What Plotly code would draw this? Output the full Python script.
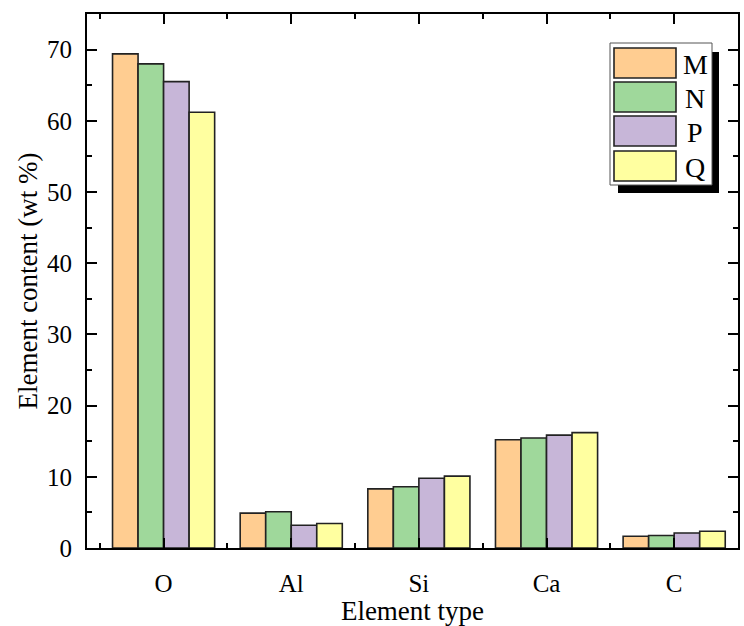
import plotly.graph_objects as go

categories = ["O", "Al", "Si", "Ca", "C"]
series_names = ["M", "N", "P", "Q"]
M_values = [69.4, 4.9, 8.3, 15.2, 1.65]
N_values = [68.0, 5.1, 8.6, 15.45, 1.75]
P_values = [65.5, 3.2, 9.8, 15.85, 2.1]
Q_values = [61.2, 3.45, 10.1, 16.2, 2.35]
colors = ["#FFCD91", "#9FD89B", "#C7B6D8", "#FFFFA0"]

values = [M_values, N_values, P_values, Q_values]
xpos = list(range(len(categories)))

FONT = "Liberation Serif, Times New Roman, serif"
W, H = 744, 626
L, R, T, B = 87, 6, 14, 78
PW, PH = W - L - R, H - T - B


def px(x):
    return (x - L) / PW


def py(y):
    return (H - B - y) / PH


fig = go.Figure()
for name, vals, col in zip(series_names, values, colors):
    fig.add_trace(go.Bar(
        x=xpos, y=vals, name=name,
        marker=dict(color=col, line=dict(color="#222222", width=1.6)),
        showlegend=False,
    ))

# custom legend (box with drop shadow)
shapes = []
annotations = []
shapes.append(dict(type="rect", xref="paper", yref="paper",
                   x0=px(618), x1=px(719), y0=py(193), y1=py(52),
                   fillcolor="black", line=dict(width=0), layer="above"))
shapes.append(dict(type="rect", xref="paper", yref="paper",
                   x0=px(610), x1=px(712), y0=py(185), y1=py(43),
                   fillcolor="white", line=dict(color="#555555", width=1), layer="above"))
sw_top = [48, 82, 116, 151]
for name, col, t in zip(series_names, colors, sw_top):
    shapes.append(dict(type="rect", xref="paper", yref="paper",
                       x0=px(614), x1=px(676), y0=py(t + 30), y1=py(t),
                       fillcolor=col, line=dict(color="#222222", width=1.6), layer="above"))
    annotations.append(dict(xref="paper", yref="paper", x=px(695), y=py(t + 16),
                            text=name, showarrow=False, xanchor="center", yanchor="middle",
                            font=dict(family=FONT, size=28, color="black")))

fig.update_layout(
    width=W, height=H,
    margin=dict(l=L, r=R, t=T, b=B, pad=0, autoexpand=False),
    paper_bgcolor="white", plot_bgcolor="white",
    barmode="group", bargap=0.2, bargroupgap=0,
    shapes=shapes, annotations=annotations,
    font=dict(family=FONT, color="black"),
)

fig.update_xaxes(
    range=[-0.6, 4.5], automargin=False,
    tickvals=xpos, ticktext=categories,
    ticks="inside", ticklen=10, tickwidth=2, tickcolor="black",
    minor=dict(tickvals=[i - 0.5 for i in range(len(categories) + 1)],
               ticks="inside", ticklen=5, tickwidth=2, tickcolor="black"),
    showline=True, linewidth=2, linecolor="black", mirror="ticks",
    showgrid=False, zeroline=False,
    tickfont=dict(family=FONT, size=25, color="black"),
    ticklabelstandoff=12,
    title=dict(text="Element type", font=dict(family=FONT, size=27, color="black"), standoff=6),
)

fig.update_yaxes(
    range=[0, 75], automargin=False,
    dtick=10, tick0=0,
    ticks="inside", ticklen=10, tickwidth=2, tickcolor="black",
    minor=dict(dtick=5, tick0=0, ticks="inside", ticklen=5, tickwidth=2, tickcolor="black"),
    showline=True, linewidth=2, linecolor="black", mirror="ticks",
    showgrid=False, zeroline=False,
    tickfont=dict(family=FONT, size=25, color="black"),
    ticklabelstandoff=8,
    title=dict(text="Element content (wt %)", font=dict(family=FONT, size=27, color="black"), standoff=2),
)

fig.write_html("out.html")
